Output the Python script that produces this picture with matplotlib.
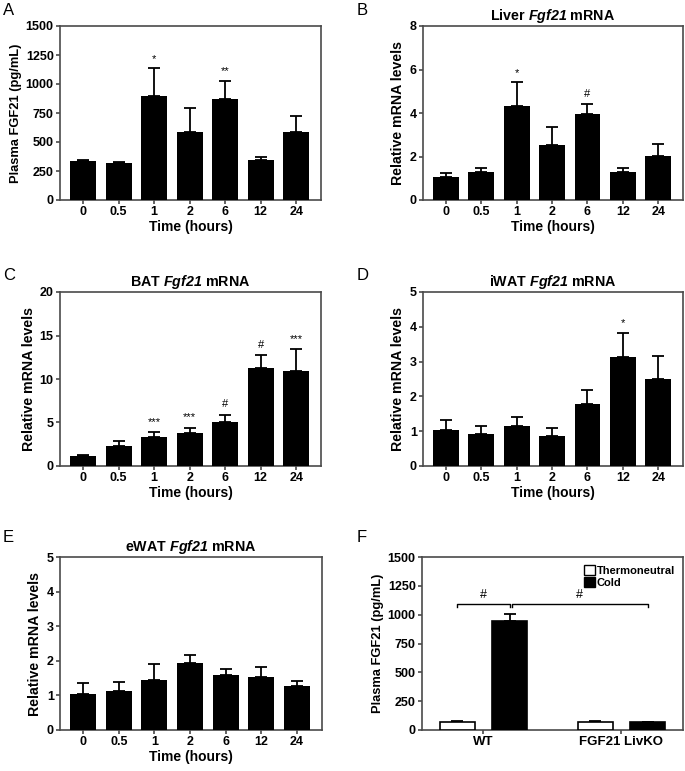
"""Plasma and tissue Fgf21 levels after cold exposure (six-panel figure)."""

import matplotlib.pyplot as plt
from matplotlib.patches import Patch

plt.rcParams["font.family"] = ["Liberation Sans", "DejaVu Sans"]
plt.rcParams["font.weight"] = "bold"
plt.rcParams["mathtext.fontset"] = "custom"
plt.rcParams["mathtext.it"] = "Liberation Sans:italic:bold"
plt.rcParams["mathtext.rm"] = "Liberation Sans:italic:bold"

# ---- data ----
times = ["0", "0.5", "1", "2", "6", "12", "24"]

plasma_mean = [335, 318, 897, 583, 868, 342, 583]
plasma_err = [10, 10, 238, 207, 161, 30, 137]
plasma_marks = ["", "", "*", "", "**", "", ""]

liver_mean = [1.07, 1.30, 4.32, 2.51, 3.94, 1.27, 2.01]
liver_err = [0.16, 0.19, 1.09, 0.83, 0.49, 0.22, 0.55]
liver_marks = ["", "", "*", "", "#", "", ""]

bat_mean = [1.15, 2.26, 3.38, 3.84, 5.10, 11.29, 10.90]
bat_err = [0.15, 0.62, 0.54, 0.57, 0.81, 1.45, 2.50]
bat_marks = ["", "", "***", "***", "#", "#", "***"]

iwat_mean = [1.04, 0.91, 1.16, 0.87, 1.77, 3.12, 2.50]
iwat_err = [0.28, 0.25, 0.26, 0.21, 0.42, 0.70, 0.66]
iwat_marks = ["", "", "", "", "", "*", ""]

ewat_mean = [1.03, 1.14, 1.44, 1.93, 1.60, 1.52, 1.27]
ewat_err = [0.32, 0.26, 0.48, 0.23, 0.15, 0.31, 0.15]

genotypes = ["WT", "FGF21 LivKO"]
thermo_mean = [69, 66]
thermo_err = [12, 9]
cold_mean = [943, 72]
cold_err = [61, 0]

W, H = 685, 771


def rect(x0, y0, x1, y1):
    return [x0 / W, 1 - y1 / H, (x1 - x0) / W, (y1 - y0) / H]


def style_axes(ax):
    for side in ax.spines.values():
        side.set_color("#4a4a4a")
        side.set_linewidth(1.2)
    ax.tick_params(axis="both", direction="out", length=3, width=1.2,
                   color="#4a4a4a", labelsize=9, pad=1.5, top=False, right=False)
    for lab in ax.get_xticklabels() + ax.get_yticklabels():
        lab.set_fontweight("bold")


def time_panel(ax, mean, err, ymax, step, ylabel, ylabel_size, title=None,
               marks=None, mark_gap=0.0):
    x = list(range(len(times)))
    ax.bar(x, mean, width=0.73, color="black", zorder=3)
    ax.errorbar(x, mean, yerr=[[0] * len(err), err], fmt="none", ecolor="black",
                elinewidth=1.3, capsize=4, capthick=1.3, zorder=2)
    if marks:
        for xi, m, e, s in zip(x, mean, err, marks):
            if s:
                ax.text(xi, m + e + mark_gap, s, ha="center", va="bottom",
                        fontsize=8, fontweight="normal")
    ax.set_xlim(-0.65, 6.7)
    ax.set_ylim(0, ymax)
    ax.set_yticks([i * step for i in range(int(round(ymax / step)) + 1)])
    ax.set_xticks(x)
    ax.set_xticklabels(times)
    ax.set_xlabel("Time (hours)", fontsize=10, fontweight="bold", labelpad=1)
    ax.set_ylabel(ylabel, fontsize=ylabel_size, fontweight="bold", labelpad=3)
    if title:
        ax.set_title(title, fontsize=10.3, fontweight="bold", pad=4)
    style_axes(ax)


fig = plt.figure(figsize=(W / 100, H / 100), dpi=100)

axA = fig.add_axes(rect(60, 26, 321, 200))
time_panel(axA, plasma_mean, plasma_err, 1500, 250, "Plasma FGF21 (pg/mL)", 9.3,
           marks=plasma_marks, mark_gap=40)

axB = fig.add_axes(rect(423, 26, 683, 200))
time_panel(axB, liver_mean, liver_err, 8, 2, "Relative mRNA levels", 10.2,
           title="Liver $Fgf21$ mRNA", marks=liver_marks, mark_gap=0.2)

axC = fig.add_axes(rect(60, 292, 321, 466))
time_panel(axC, bat_mean, bat_err, 20, 5, "Relative mRNA levels", 10.2,
           title="BAT $Fgf21$ mRNA", marks=bat_marks, mark_gap=0.6)

axD = fig.add_axes(rect(423, 292, 683, 466))
time_panel(axD, iwat_mean, iwat_err, 5, 1, "Relative mRNA levels", 10.2,
           title="iWAT $Fgf21$ mRNA", marks=iwat_marks, mark_gap=0.15)

axE = fig.add_axes(rect(60, 557, 322, 730))
time_panel(axE, ewat_mean, ewat_err, 5, 1, "Relative mRNA levels", 10.2,
           title="eWAT $Fgf21$ mRNA")

# ---- panel F ----
axF = fig.add_axes(rect(422, 557, 683, 730))
gx = [0, 1]
off = 0.19
bw = 0.255
xt = [g - off for g in gx]
xc = [g + off for g in gx]
axF.bar(xt, thermo_mean, width=bw, color="white", edgecolor="black", linewidth=1.2, zorder=3)
axF.bar(xc, cold_mean, width=bw, color="black", edgecolor="black", linewidth=1.2, zorder=3)
axF.errorbar(xt, thermo_mean, yerr=[[0, 0], thermo_err], fmt="none", ecolor="black",
             elinewidth=1.3, capsize=4, capthick=1.3, zorder=2)
axF.errorbar(xc, cold_mean, yerr=[[0, 0], cold_err], fmt="none", ecolor="black",
             elinewidth=1.3, capsize=4, capthick=1.3, zorder=2)

# significance brackets
br_y, br_drop = 1096, 30
for x0, x1 in [(xt[0], xc[0]), (xc[0] + 0.015, xc[1])]:
    axF.plot([x0, x0, x1, x1], [br_y - br_drop, br_y, br_y, br_y - br_drop],
             color="black", linewidth=1.0)
    axF.text((x0 + x1) / 2, br_y + 25, "#", ha="center", va="bottom",
             fontsize=9, fontweight="normal")

axF.set_xlim(-0.445, 1.447)
axF.set_ylim(0, 1500)
axF.set_yticks(range(0, 1501, 250))
axF.set_xticks(gx)
axF.set_xticklabels(genotypes)
axF.set_ylabel("Plasma FGF21 (pg/mL)", fontsize=9.3, fontweight="bold", labelpad=3)
handles = [Patch(facecolor="white", edgecolor="black", linewidth=1, label="Thermoneutral"),
           Patch(facecolor="black", edgecolor="black", linewidth=1, label="Cold")]
axF.legend(handles=handles, loc="upper right", frameon=False,
           handlelength=1.0, handleheight=1.0, handletextpad=0.2, labelspacing=0.15,
           borderaxespad=0.3, prop={"weight": "bold", "size": 8})
style_axes(axF)
for lab in axF.get_xticklabels():
    lab.set_fontsize(9.5)

# panel letters
for letter, (px, py) in zip("ABCDEF", [(3, 3), (357, 3), (3, 268), (357, 268),
                                       (3, 530), (357, 530)]):
    fig.text(px / W, 1 - py / H, letter, fontsize=12, fontweight="normal",
             ha="left", va="top")

fig.savefig("out.png", dpi=100)
